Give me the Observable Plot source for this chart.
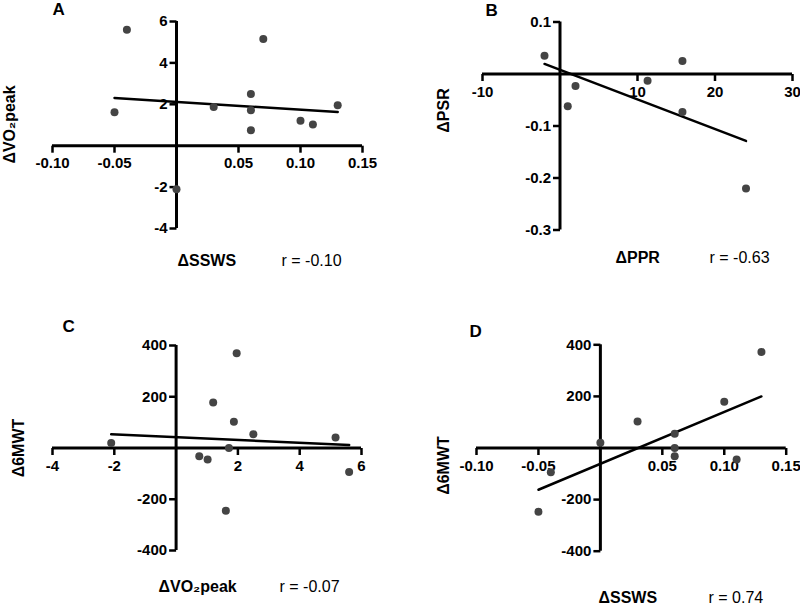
<!DOCTYPE html>
<html><head><meta charset="utf-8">
<script src="https://cdn.jsdelivr.net/npm/d3@7"></script>
<script src="https://cdn.jsdelivr.net/npm/@observablehq/plot@0.6"></script>
<style>
body{margin:0;background:#fff;}
#wrap{position:relative;width:800px;height:604px;overflow:hidden;font-family:"Liberation Sans",Arial,sans-serif;}
.panel{position:absolute;}
</style></head><body><div id="wrap"></div>
<script>
// Panel A: ΔSSWS vs ΔVO2peak
const sswsA = [-0.05, -0.04, 0, 0.03, 0.06, 0.06, 0.06, 0.07, 0.10, 0.11, 0.13];
const vo2A  = [1.61, 5.6, -2.1, 1.87, 2.5, 1.71, 0.75, 5.16, 1.2, 1.02, 1.96];
// Panel B: ΔPPR vs ΔPSR
const pprB = [-2, 1, 2, 11.3, 15.8, 15.8, 24];
const psrB = [0.035, -0.062, -0.023, -0.013, 0.025, -0.073, -0.22];
// Panel C: ΔVO2peak vs Δ6MWT
const vo2C = [-2.1, 0.75, 1.02, 1.2, 1.61, 1.71, 1.87, 1.96, 2.5, 5.16, 5.6];
const mwtC = [20, -32, -45, 178, -245, 0, 102, 370, 54, 41, -94];
// Panel D: ΔSSWS vs Δ6MWT
const sswsD = [-0.05, -0.04, 0, 0.03, 0.06, 0.06, 0.06, 0.10, 0.11, 0.13];
const mwtD  = [-247, -94, 20, 103, 55, 0, -32, 179, -45, 372];

// Tick values
const ticksSSWS = [-0.10, -0.05, 0.05, 0.10, 0.15];
const ticksVO2Y = [-4, -2, 2, 4, 6];
const ticksPPR  = [-10, 10, 20, 30];
const ticksPSR  = [-0.3, -0.2, -0.1, 0.1];
const ticksVO2X = [-4, -2, 2, 4, 6];
const ticksMWT  = [-400, -200, 200, 400];

// Labels
const letters = ["A", "B", "C", "D"];
const xTitles = ["ΔSSWS", "ΔPPR", "ΔVO₂peak", "ΔSSWS"];
const yTitles = ["ΔVO₂peak", "ΔPSR", "Δ6MWT", "Δ6MWT"];
const rTexts  = ["r = -0.10", "r = -0.63", "r = -0.07", "r = 0.74"];

const f2 = d => d.toFixed(2), f1 = d => d.toFixed(1), f0 = d => String(d);

const TICK = 7; // tick length in pixels

function makePanel(c) {
  const data = c.xs.map((x, i) => ({x, y: c.ys[i]}));
  const zero = () => 0;
  const [xa, xb] = c.xDomain, [ya, yb] = c.yDomain;
  const tyData = TICK * Math.abs(yb - ya) / Math.abs(c.yRange[1] - c.yRange[0]);
  const txData = TICK * Math.abs(xb - xa) / Math.abs(c.xRange[1] - c.xRange[0]);
  const xTickData = c.xTicks.map(v => ({v, a: 0, b: -tyData}));
  const yTickData = c.yTicks.map(v => ({v, a: -txData, b: 0}));
  const bold = {fontWeight: "bold", fill: "black"};
  const plot = Plot.plot({
    width: 400, height: 302, margin: 0,
    x: {domain: c.xDomain, range: c.xRange, axis: null},
    y: {domain: c.yDomain, range: c.yRange, axis: null},
    style: {fontFamily: "'Liberation Sans', Arial, sans-serif", background: "transparent", overflow: "hidden"},
    marks: [
      Plot.link(xTickData, {x1: "v", x2: "v", y1: "a", y2: "b", stroke: "black", strokeWidth: 2.5}),
      Plot.link(yTickData, {y1: "v", y2: "v", x1: "a", x2: "b", stroke: "black", strokeWidth: 2.5}),
      Plot.ruleY([0], {y: zero, x1: () => xa, x2: () => xb, stroke: "black", strokeWidth: 3}),
      Plot.ruleX([0], {x: zero, y1: () => ya, y2: () => yb, stroke: "black", strokeWidth: 3}),
      Plot.text(c.xTicks, {x: d => d, y: zero, text: c.fx, dy: 12, lineAnchor: "top", fontSize: 15, ...bold}),
      Plot.text(c.yTicks, {x: zero, y: d => d, text: c.fy, textAnchor: "end", dx: -9, fontSize: 15, ...bold}),
      Plot.linearRegressionY(data, {x: "x", y: "y", ci: 0, stroke: "black", strokeWidth: 2.5}),
      Plot.dot(data, {x: "x", y: "y", r: 4, fill: "#444", stroke: "none"}),
      Plot.text([c.letter], {frameAnchor: "top-left", text: d => d, dx: c.letterAt[0], dy: c.letterAt[1], textAnchor: "start", lineAnchor: "bottom", fontSize: 17, ...bold}),
      Plot.text([c.xTitle], {frameAnchor: "top-left", text: d => d, dx: c.xTitleAt[0], dy: c.xTitleAt[1], textAnchor: "start", lineAnchor: "bottom", fontSize: 16, ...bold}),
      Plot.text([c.rText], {frameAnchor: "top-left", text: d => d, dx: c.rAt[0], dy: c.rAt[1], textAnchor: "start", lineAnchor: "bottom", fontSize: 16, fill: "black"}),
      Plot.text([c.yTitle], {frameAnchor: "top-left", text: d => d, dx: c.yTitleAt[0], dy: c.yTitleAt[1], rotate: -90, textAnchor: "middle", lineAnchor: "middle", fontSize: 16, ...bold})
    ]
  });
  const div = document.createElement("div");
  div.className = "panel";
  div.style.left = c.left + "px";
  div.style.top = c.top + "px";
  div.appendChild(plot);
  document.getElementById("wrap").appendChild(div);
}

makePanel({left: 0, top: 0, xs: sswsA, ys: vo2A,
  xDomain: [-0.1, 0.15], xRange: [52, 362], yDomain: [-4, 6], yRange: [228, 21],
  xTicks: ticksSSWS, yTicks: ticksVO2Y, fx: f2, fy: f0,
  letter: letters[0], letterAt: [52, 14], xTitle: xTitles[0], xTitleAt: [177, 265],
  rText: rTexts[0], rAt: [281, 265], yTitle: yTitles[0], yTitleAt: [9, 124]});

makePanel({left: 400, top: 0, xs: pprB, ys: psrB,
  xDomain: [-10, 30], xRange: [82, 392], yDomain: [-0.3, 0.1], yRange: [229.5, 21.5],
  xTicks: ticksPPR, yTicks: ticksPSR, fx: f0, fy: f1,
  letter: letters[1], letterAt: [85, 15], xTitle: xTitles[1], xTitleAt: [215, 262],
  rText: rTexts[1], rAt: [309, 262], yTitle: yTitles[1], yTitleAt: [43, 110]});

makePanel({left: 0, top: 302, xs: vo2C, ys: mwtC,
  xDomain: [-4, 6], xRange: [52, 361], yDomain: [-400, 400], yRange: [248, 43],
  xTicks: ticksVO2X, yTicks: ticksMWT, fx: f0, fy: f0,
  letter: letters[2], letterAt: [62, 29], xTitle: xTitles[2], xTitleAt: [158, 289],
  rText: rTexts[2], rAt: [279, 289], yTitle: yTitles[2], yTitleAt: [18.5, 145.5]});

makePanel({left: 400, top: 302, xs: sswsD, ys: mwtD,
  xDomain: [-0.1, 0.15], xRange: [76, 385.7], yDomain: [-400, 400], yRange: [248.7, 42.3],
  xTicks: ticksSSWS, yTicks: ticksMWT, fx: f2, fy: f0,
  letter: letters[3], letterAt: [69, 34], xTitle: xTitles[3], xTitleAt: [198, 300],
  rText: rTexts[3], rAt: [308, 300], yTitle: yTitles[3], yTitleAt: [43.5, 163]});
</script></body></html>
